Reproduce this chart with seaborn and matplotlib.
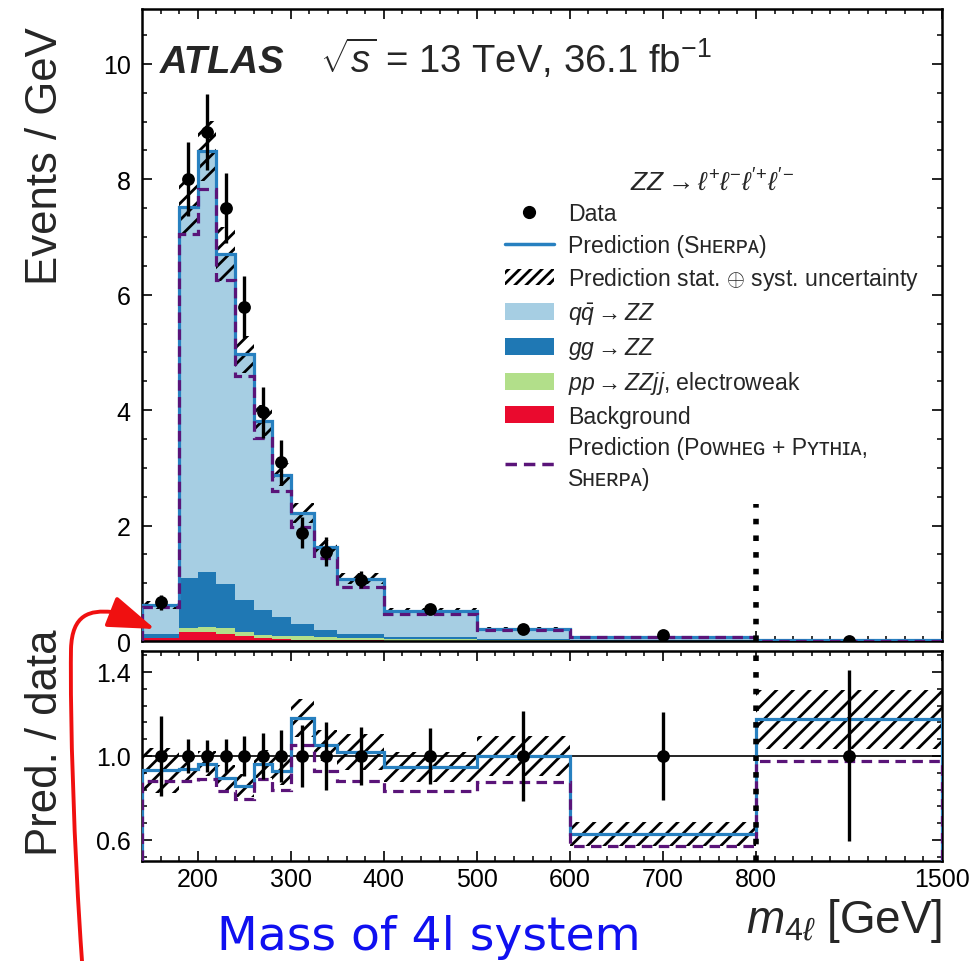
import numpy as np
import pandas as pd
import matplotlib
matplotlib.use("Agg")
import matplotlib.pyplot as plt
import seaborn as sns
from matplotlib.lines import Line2D
from matplotlib.patches import Patch, FancyArrowPatch
from matplotlib.path import Path
from matplotlib.ticker import FixedLocator, FormatStrFormatter

# ---------------------------------------------------------------- data
bin_edges = [140, 180, 200, 220, 240, 260, 280, 300, 325, 350, 400, 500, 600, 800, 1500]

# observed events per GeV and their statistical uncertainty
data_vals = [0.67, 8.0, 8.82, 7.5, 5.79, 3.96, 3.10, 1.88, 1.55, 1.06, 0.555, 0.215, 0.11, 0.0086]
data_errs = [0.127, 0.64, 0.66, 0.61, 0.54, 0.44, 0.39, 0.275, 0.25, 0.146, 0.075, 0.046, 0.023, 0.0035]

# Sherpa-based prediction, split by process (events per GeV)
qq_zz = [0.505, 6.42, 7.30, 5.71, 4.25, 3.27, 2.47, 1.925, 1.44, 0.965, 0.455, 0.181, 0.054, 0.0069]
gg_zz = [0.07, 0.88, 0.94, 0.77, 0.566, 0.44, 0.318, 0.215, 0.126, 0.069, 0.04, 0.02, 0.008, 0.0015]
ew_zzjj = [0.005, 0.06, 0.10, 0.09, 0.07, 0.052, 0.057, 0.055, 0.046, 0.036, 0.025, 0.012, 0.006, 0.0015]
background = [0.045, 0.16, 0.15, 0.13, 0.08, 0.052, 0.035, 0.025, 0.018, 0.01, 0.005, 0.002, 0.001, 0.0002]

# alternative prediction (Powheg + Pythia, Sherpa)
powheg_pred = [0.59, 7.05, 7.84, 6.25, 4.60, 3.52, 2.60, 1.98, 1.44, 0.934, 0.462, 0.188, 0.063, 0.0084]

# relative stat. (+) syst. uncertainty of the Sherpa prediction
pred_rel_unc = [0.115, 0.063, 0.061, 0.07, 0.064, 0.07, 0.07, 0.076, 0.07, 0.085, 0.075, 0.095, 0.09, 0.12]

x_major_ticks = [200, 300, 400, 500, 600, 700, 800, 1500]
top_yticks = [0, 2, 4, 6, 8, 10]
ratio_yticks = [0.6, 1.0, 1.4]
break_line_height = 2.37

process_names = [r"$q\bar{q} \rightarrow ZZ$", r"$gg \rightarrow ZZ$",
                 r"$pp \rightarrow ZZjj$, electroweak", "Background"]
process_colors = ["#a6cee3", "#1f78b4", "#b2df8a", "#ea0a2e"]
sherpa_color = "#2780c0"
powheg_color = "#5a1479"

# ---------------------------------------------------------------- style
sns.set_theme(style="ticks")
plt.rcParams.update({
    "font.family": ["Liberation Sans", "DejaVu Sans"],
    "mathtext.fontset": "custom",
    "mathtext.rm": "Liberation Sans",
    "mathtext.it": "Liberation Sans:italic",
    "mathtext.bf": "Liberation Sans:bold",
    "axes.linewidth": 1.8,
    "axes.edgecolor": "black",
    "xtick.direction": "in",
    "ytick.direction": "in",
    "xtick.top": True,
    "ytick.right": True,
    "xtick.major.size": 7,
    "ytick.major.size": 7,
    "xtick.minor.size": 3.5,
    "ytick.minor.size": 3.5,
    "xtick.major.width": 1.2,
    "ytick.major.width": 1.2,
    "xtick.minor.width": 1.1,
    "ytick.minor.width": 1.1,
    "xtick.color": "black",
    "ytick.color": "black",
    "xtick.labelsize": 18,
    "ytick.labelsize": 18,
    "hatch.linewidth": 2.0,
    "hatch.color": "black",
})

# x axis: linear up to 800 GeV, the 800-1500 GeV bin squeezed
BREAK, SQUEEZE = 800.0, 3.5


def fwd(m):
    m = np.asarray(m, dtype=float)
    return np.where(m <= BREAK, m, BREAK + (m - BREAK) / SQUEEZE)


def inv(u):
    u = np.asarray(u, dtype=float)
    return np.where(u <= BREAK, u, BREAK + (u - BREAK) * SQUEEZE)


edges = np.array(bin_edges, dtype=float)
centers = 0.5 * (edges[:-1] + edges[1:])
data = np.array(data_vals)
derr = np.array(data_errs)
components = [np.array(qq_zz), np.array(gg_zz), np.array(ew_zzjj), np.array(background)]
sherpa = np.sum(components, axis=0)
powheg = np.array(powheg_pred)
unc = np.array(pred_rel_unc)

long_df = pd.DataFrame({
    "m4l": np.tile(centers, len(process_names)),
    "rate": np.concatenate(components),
    "process": np.repeat(process_names, len(centers)),
})

fig = plt.figure(figsize=(9.75, 9.62), dpi=100)
ax = fig.add_axes([0.1456, 0.3326, 0.8205, 0.657])
ax2 = fig.add_axes([0.1456, 0.1040, 0.8205, 0.2183])
for a in (ax, ax2):
    a.set_xscale("function", functions=(fwd, inv))


def ext(v):
    return np.append(v, v[-1])


# ---------------------------------------------------------------- top panel
sns.histplot(data=long_df, x="m4l", weights="rate", hue="process",
             hue_order=process_names, palette=dict(zip(process_names, process_colors)),
             bins=list(bin_edges), stat="count", multiple="stack", element="step",
             fill=True, alpha=1, linewidth=0, legend=False, ax=ax, zorder=1)

ax.fill_between(edges, ext(sherpa * (1 - unc)), ext(sherpa * (1 + unc)), step="post",
                facecolor="none", edgecolor="black", hatch="//", linewidth=0, zorder=2)
ax.stairs(sherpa, edges, color=sherpa_color, linewidth=2.3, zorder=3)
ax.stairs(powheg, edges, color=powheg_color, linewidth=2.3,
          linestyle=(0, (3.3, 2.0)), zorder=4)
ax.errorbar(centers, data, yerr=derr, fmt="none", ecolor="black", elinewidth=2.4, zorder=5)
sns.scatterplot(x=centers, y=data, color="black", s=85, linewidth=0, ax=ax, zorder=6)
ax.plot([BREAK, BREAK], [0, break_line_height], color="black", linewidth=4,
        linestyle=(0, (1, 2)), zorder=7)

ax.set_xlim(edges[0], edges[-1])
ax.set_ylim(0, 10.95)
ax.set_xlabel("")
ax.set_ylabel("Events / GeV", fontsize=31.5, loc="top")
ax.yaxis.set_label_coords(-0.095, 0.972)
ax.yaxis.set_major_locator(FixedLocator(top_yticks))
ax.yaxis.set_minor_locator(FixedLocator(np.arange(0, 11, 0.5)))
minor_x = inv(np.arange(160, 1000, 20))
for a in (ax, ax2):
    a.xaxis.set_major_locator(FixedLocator(x_major_ticks))
    a.xaxis.set_minor_locator(FixedLocator(minor_x))
    a.xaxis.set_major_formatter(FormatStrFormatter("%d"))
    a.tick_params(which="both", top=True, right=True)
ax.tick_params(labelbottom=False)
ax.tick_params(axis="y", pad=8)

ax.text(0.0225, 0.900, "ATLAS", transform=ax.transAxes, fontsize=27.5,
        fontweight="bold", fontstyle="italic", va="baseline")
ax.text(0.222, 0.900, r"$\sqrt{s}$ = 13 TeV, 36.1 fb$^{-1}$", transform=ax.transAxes,
        fontsize=27.5, va="baseline")

handles = [
    Line2D([], [], marker="o", linestyle="none", color="black", markersize=8.5),
    Line2D([], [], color=sherpa_color, linewidth=2.5),
    Patch(facecolor="none", edgecolor="black", hatch="///", linewidth=0),
    Patch(facecolor=process_colors[0], linewidth=0),
    Patch(facecolor=process_colors[1], linewidth=0),
    Patch(facecolor=process_colors[2], linewidth=0),
    Patch(facecolor=process_colors[3], linewidth=0),
    Line2D([], [], color=powheg_color, linewidth=2.5, linestyle=(0, (3.3, 2.0))),
]
labels = [
    "Data",
    "Prediction (Sʜᴇʀᴘᴀ)",
    r"Prediction stat. $\oplus$ syst. uncertainty",
    process_names[0], process_names[1], process_names[2], process_names[3],
    "Prediction (Pᴏᴡʜᴇɢ + Pʏᴛʜɪᴀ,\nSʜᴇʀᴘᴀ)",
]
leg = ax.legend(handles, labels, loc="upper left", bbox_to_anchor=(0.454, 0.749),
                frameon=False, fontsize=16.6,
                title=r"$ZZ \rightarrow \ell^{+}\ell^{-}\ell'^{+}\ell'^{-}$",
                title_fontsize=19, handlelength=2.1, handleheight=0.75,
                handletextpad=0.62, labelspacing=0.36, borderpad=0, borderaxespad=0)
leg.get_texts()[-1].set_linespacing(1.45)

# ---------------------------------------------------------------- ratio panel
r_sherpa = sherpa / data
r_powheg = powheg / data
r_err = derr / data

ax2.axhline(1.0, color="black", linewidth=1.2, zorder=1)
ax2.fill_between(edges, ext(r_sherpa * (1 - unc)), ext(r_sherpa * (1 + unc)), step="post",
                 facecolor="none", edgecolor="black", hatch="//", linewidth=0, zorder=2)
ax2.stairs(r_sherpa, edges, color=sherpa_color, linewidth=2.3, zorder=3)
ax2.stairs(r_powheg, edges, color=powheg_color, linewidth=2.3,
           linestyle=(0, (3.3, 2.0)), zorder=4)
ax2.errorbar(centers, np.ones_like(centers), yerr=r_err, fmt="none", ecolor="black",
             elinewidth=2.4, zorder=5)
sns.scatterplot(x=centers, y=np.ones_like(centers), color="black", s=85, linewidth=0,
                ax=ax2, zorder=6)
ax2.axvline(BREAK, color="black", linewidth=4, linestyle=(0, (1, 2)), zorder=7)

ax2.set_xlim(edges[0], edges[-1])
ax2.set_ylim(0.5, 1.5)
ax2.yaxis.set_major_locator(FixedLocator(ratio_yticks))
ax2.yaxis.set_minor_locator(FixedLocator(np.arange(0.52, 1.5, 0.08)))
ax2.yaxis.set_major_formatter(FormatStrFormatter("%.1f"))
ax2.tick_params(axis="x", pad=4.5)
ax2.tick_params(axis="y", pad=8)
ax2.set_ylabel("Pred. / data", fontsize=31.5)
ax2.yaxis.set_label_coords(-0.095, 0.567)
ax2.set_xlabel(r"$m_{4\ell}$ [GeV]", fontsize=33, loc="right")
ax2.xaxis.set_label_coords(1.0, -0.165)

# ---------------------------------------------------------------- annotation
W, H = 975.0, 962.0


def fpt(x, y):
    return (x / W, 1.0 - y / H)


arrow_path = Path(
    [fpt(82, 962), fpt(74, 850), fpt(70, 720), fpt(71, 650),
     fpt(72, 615), fpt(90, 611), fpt(112, 613), fpt(155, 630)],
    [Path.MOVETO, Path.CURVE4, Path.CURVE4, Path.CURVE4,
     Path.CURVE4, Path.CURVE4, Path.CURVE4, Path.LINETO],
)
arrow = FancyArrowPatch(path=arrow_path, arrowstyle="-|>,head_length=1.45,head_width=0.5",
                        mutation_scale=20, color="#f01010", linewidth=2.8,
                        transform=fig.transFigure, zorder=20)
fig.add_artist(arrow)
fig.text(217 / W, 1 - 950 / H, "Mass of 4l system", color="#1010f0", fontsize=34,
         family="DejaVu Sans", va="baseline", ha="left")

fig.savefig("out.png", dpi=100)
